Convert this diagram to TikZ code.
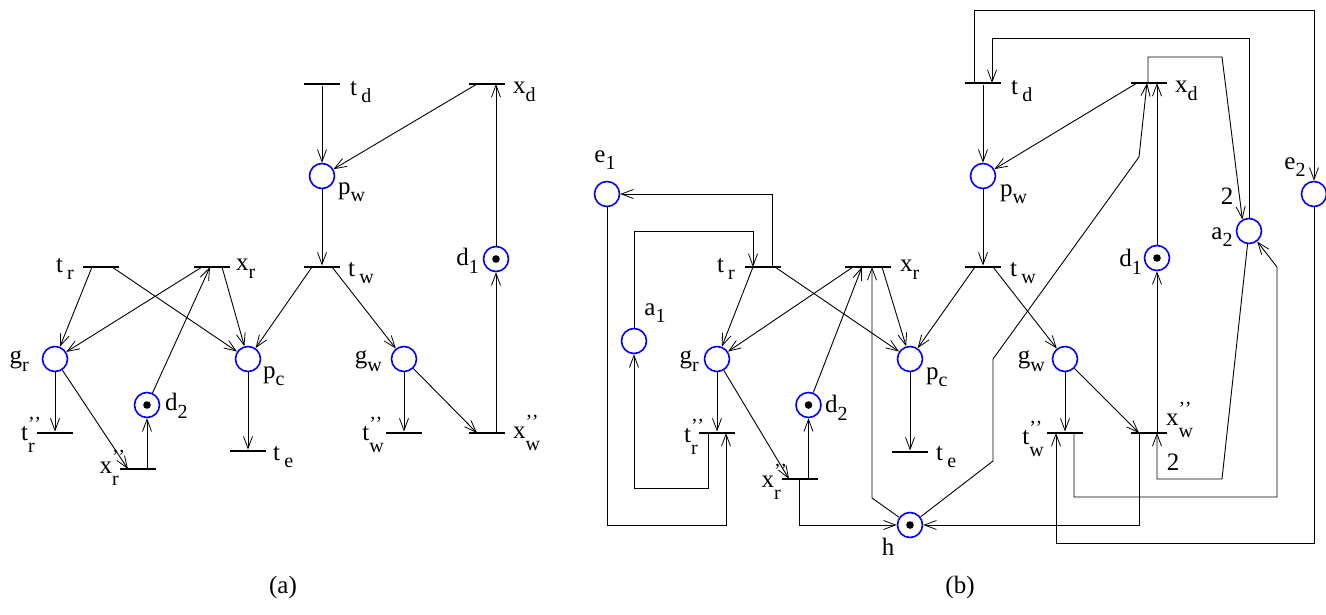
\documentclass[tikz,border=0pt]{standalone}
\usepackage{fontspec}
\setmainfont{Liberation Serif}
\usetikzlibrary{arrows.meta}
\newcommand\subf{\fontsize{20}{22}\selectfont}
\newcommand\sbs[2]{#1\raisebox{-0.3em}{\subf #2}}
\newcommand\sbp[2]{#1\rlap{\raisebox{10pt}{\subf\char"2019\kern-0.02em\char"2019}}\raisebox{-12.5pt}{\subf #2}\hspace{0.12em}}
\tikzset{
  place/.style={circle, draw=blue, line width=1.6pt, minimum size=25pt, inner sep=0pt},
  trans/.style={rectangle, fill=black, minimum width=36pt, minimum height=2.6pt, inner sep=0pt},
  arc/.style={-{Straight Barb[length=12pt,width=9pt,line width=0.8pt]}, line width=0.9pt},
  lbl/.style={inner sep=0pt, font=\fontsize{25}{28}\selectfont},
  tok/.style={fill=black}
}
\begin{document}
\begin{tikzpicture}[x=1pt,y=-1pt]
\useasboundingbox (0,0) rectangle (1326,614);

%% ---------------- (a) ----------------
\node[trans] (atd) at (322,84) {};
\node[trans] (axd) at (487,84) {};
\node[trans] (atr) at (101,267) {};
\node[trans] (axr) at (212,267) {};
\node[trans] (atw) at (322,267) {};
\node[trans] (attr) at (55,433) {};
\node[trans] (axxr) at (138,469) {};
\node[trans] (ate) at (248,451) {};
\node[trans] (attw) at (404,433) {};
\node[trans] (axxw) at (487,433) {};

\node[place] (apw) at (322,176) {};
\node[place] (ad1) at (496,259) {};
\node[place] (agr) at (55,359) {};
\node[place] (apc) at (248,359) {};
\node[place] (ad2) at (147,405) {};
\node[place] (agw) at (404,359) {};
\fill[tok] (ad1) circle (3.8pt);
\fill[tok] (ad2) circle (3.8pt);

\draw[arc] (atd) -- (apw);
\draw[arc] ([xshift=-10pt]axd.center) -- (apw);
\draw[arc] (apw) -- (atw);
\draw[arc] ([xshift=-10pt]atw.center) -- (apc);
\draw[arc] ([xshift=10pt]atw.center) -- (agw);
\draw[arc] (agw) -- (attw);
\draw[arc] (agw) -- ([xshift=-10pt]axxw.center);
\draw[arc] ([xshift=9pt]axxw.center) -- (ad1);
\draw[arc] (ad1) -- ([xshift=9pt]axd.center);
\draw[arc] ([xshift=-9pt]atr.center) -- (agr);
\draw[arc] ([xshift=11pt]atr.center) -- (apc);
\draw[arc] ([xshift=-10pt]axr.center) -- (agr);
\draw[arc] ([xshift=10pt]axr.center) -- (apc);
\draw[arc] (ad2) -- ([xshift=-2pt]axr.center);
\draw[arc] (agr) -- (attr);
\draw[arc] (agr) -- ([xshift=-10pt]axxr.center);
\draw[arc] ([xshift=9pt]axxr.center) -- (ad2);
\draw[arc] (apc) -- (ate);

\node[lbl,anchor=west] (latd) at (350,92) {\sbs{t\,}{d}};
\node[lbl,anchor=west] (laxd) at (513,92) {\sbs{x}{d}};
\node[lbl,anchor=west] (lapw) at (338,192) {\sbs{p}{w}};
\node[lbl,anchor=west] (latw) at (348,273) {\sbs{t\,}{w}};
\node[lbl,anchor=east] (lad1) at (479,261) {\sbs{d}{1}};
\node[lbl,anchor=east] (latr) at (74,269) {\sbs{t\,}{r}};
\node[lbl,anchor=west] (laxr) at (236,269) {\sbs{x}{r}};
\node[lbl,anchor=east] (lagr) at (29,361) {\sbs{g}{r}};
\node[lbl,anchor=west] (lapc) at (263,376) {\sbs{p}{c}};
\node[lbl,anchor=east] (lagw) at (382,361) {\sbs{g}{w}};
\node[lbl,anchor=west] (lad2) at (165,406) {\sbs{d}{2}};
\node[lbl,anchor=base east] (lattr) at (35,440) {\sbp{t}{r}};
\node[lbl,anchor=base east] (laxxr) at (119,473) {\sbp{x}{r}};
\node[lbl,anchor=west] (late) at (273,457) {\sbs{t\,}{e}};
\node[lbl,anchor=base east] (lattw) at (384,440) {\sbp{t}{w}};
\node[lbl,anchor=base west] (laxxw) at (513,438) {\sbp{x}{w}};

%% ---------------- (b) ----------------
\node[trans] (btd) at (983,83) {};
\node[trans] (bxd) at (1149,83) {};
\node[trans] (btr) at (763,267) {};
\node[trans,minimum width=46pt] (bxr) at (868,267) {};
\node[trans] (btw) at (983,267) {};
\node[trans] (bttr) at (717,433) {};
\node[trans] (bxxr) at (800,479) {};
\node[trans] (bte) at (910,452) {};
\node[trans] (bttw) at (1065,433) {};
\node[trans] (bxxw) at (1149,433) {};

\node[place] (be1) at (607,194) {};
\node[place] (ba1) at (634,341) {};
\node[place] (bgr) at (717,359) {};
\node[place] (bd2) at (808.5,405) {};
\node[place] (bpc) at (910,359) {};
\node[place] (bh) at (910,525) {};
\node[place] (bpw) at (983,176) {};
\node[place] (bgw) at (1065,359) {};
\node[place] (bd1) at (1157,258) {};
\node[place] (ba2) at (1249,231) {};
\node[place] (be2) at (1314,194) {};
\fill[tok] (bd2) circle (3.8pt);
\fill[tok] (bh) circle (3.8pt);
\fill[tok] (bd1) circle (3.8pt);

\coordinate (k1) at (634,231);
\coordinate (k2) at (753,231);
\coordinate (k3) at (772,194);
\coordinate (k4) at (708,488);
\coordinate (k5) at (634,488);
\coordinate (k6) at (607,525);
\coordinate (k7) at (726,525);
\coordinate (k8) at (799.5,525);
\coordinate (k9) at (872,498);
\coordinate (k10) at (993,461);
\coordinate (k11) at (993,359);
\coordinate (k12) at (1139,157);
\coordinate (k13) at (1148,57);
\coordinate (k14) at (1222,57);
\coordinate (k15) at (1222,479);
\coordinate (k16) at (1157,479);
\coordinate (k17) at (1074,497);
\coordinate (k18) at (1277,497);
\coordinate (k19) at (1277,267);
\coordinate (k20) at (1249,38);
\coordinate (k21) at (992,38);
\coordinate (k22) at (974,10);
\coordinate (k23) at (1314,10);
\coordinate (k24) at (1314,543);
\coordinate (k25) at (1056,543);
\coordinate (k26) at (1139,525);

\draw[arc] (ba1) -- (k1) -- (k2) -- ([xshift=-10pt]btr.center);
\draw[arc] ([xshift=9pt]btr.center) -- (k3) -- (be1);
\draw[arc] ([xshift=-9pt]bttr.center) -- (k4) -- (k5) -- (ba1);
\draw[arc] (be1) -- (k6) -- (k7) -- ([xshift=9pt]bttr.center);
\draw[arc] ([xshift=-0.5pt]bxxr.center) -- (k8) -- (bh);
\draw[arc] (bh) -- (k9) -- ([xshift=4pt]bxr.center);
\draw[arc] (bh) -- (k10) -- (k11) -- (k12) -- ([xshift=-2pt]bxd.center);
\draw[arc] ([xshift=-1pt]bxd.center) -- (k13) -- (k14) -- (ba2.120);
\draw[arc] (ba2) -- (k15) -- (k16) -- ([xshift=8pt]bxxw.center);
\draw[arc] ([xshift=9pt]bttw.center) -- (k17) -- (k18) -- (k19) -- (ba2);
\draw[arc] (ba2) -- (k20) -- (k21) -- ([xshift=9pt]btd.center);
\draw[arc] ([xshift=-9pt]btd.center) -- (k22) -- (k23) -- (be2);
\draw[arc] (be2) -- (k24) -- (k25) -- ([xshift=-9pt]bttw.center);
\draw[arc] ([xshift=-10pt]bxxw.center) -- (k26) -- (bh);

\draw[arc] ([xshift=-10pt]btr.center) -- (bgr);
\draw[arc] ([xshift=12pt]btr.center) -- (bpc);
\draw[arc] ([xshift=-15pt]bxr.center) -- (bgr);
\draw[arc] ([xshift=14pt]bxr.center) -- (bpc);
\draw[arc] (bd2) -- ([xshift=-6pt]bxr.center);
\draw[arc] (bgr) -- (bttr);
\draw[arc] (bgr) -- ([xshift=-11pt]bxxr.center);
\draw[arc] ([xshift=8.5pt]bxxr.center) -- (bd2);
\draw[arc] (bpc) -- (bte);
\draw[arc] (btd) -- (bpw);
\draw[arc] ([xshift=-12pt]bxd.center) -- (bpw);
\draw[arc] (bpw) -- (btw);
\draw[arc] ([xshift=-8pt]btw.center) -- (bpc);
\draw[arc] ([xshift=10pt]btw.center) -- (bgw);
\draw[arc] (bgw) -- (bttw);
\draw[arc] (bgw) -- ([xshift=-10pt]bxxw.center);
\draw[arc] ([xshift=8pt]bxxw.center) -- (bd1);
\draw[arc] (bd1) -- ([xshift=8pt]bxd.center);

\node[lbl] (lbe1) at (605,160) {\sbs{e}{1}};
\node[lbl] (lba1) at (655,313) {\sbs{a}{1}};
\node[lbl,anchor=east] (lbtr) at (735,269) {\sbs{t\,}{r}};
\node[lbl,anchor=east] (lbgr) at (699,361) {\sbs{g}{r}};
\node[lbl,anchor=base east] (lbttr) at (698,442) {\sbp{t}{r}};
\node[lbl,anchor=base east] (lbxxr) at (781,487) {\sbp{x}{r}};
\node[lbl,anchor=west] (lbd2) at (825,408) {\sbs{d}{2}};
\node[lbl,anchor=west] (lbpc) at (926,377) {\sbs{p}{c}};
\node[lbl,anchor=west] (lbte) at (936,457) {\sbs{t\,}{e}};
\node[lbl] (lbh) at (888,547) {h};
\node[lbl,anchor=west] (lbxr) at (900,270) {\sbs{x}{r}};
\node[lbl,anchor=west] (lbtd) at (1011,91) {\sbs{t\,}{d}};
\node[lbl,anchor=west] (lbpw) at (1000,194) {\sbs{p}{w}};
\node[lbl,anchor=west] (lbtw) at (1010,273) {\sbs{t\,}{w}};
\node[lbl,anchor=east] (lbgw) at (1045,361) {\sbs{g}{w}};
\node[lbl,anchor=base east] (lbttw) at (1044,444) {\sbp{t}{w}};
\node[lbl,anchor=base west] (lbxxw) at (1166,425) {\sbp{x}{w}};
\node[lbl] (lb2a) at (1173,462) {2};
\node[lbl,anchor=east] (lbd1) at (1142,262) {\sbs{d}{1}};
\node[lbl,anchor=west] (lbxd) at (1175,91) {\sbs{x}{d}};
\node[lbl] (lb2b) at (1227,196) {2};
\node[lbl] (lba2) at (1222,237) {\sbs{a}{2}};
\node[lbl] (lbe2) at (1295,167) {\sbs{e}{2}};

\node[lbl] (capa) at (283,587) {(a)};
\node[lbl] (capb) at (960,587) {(b)};
\end{tikzpicture}
\end{document}
